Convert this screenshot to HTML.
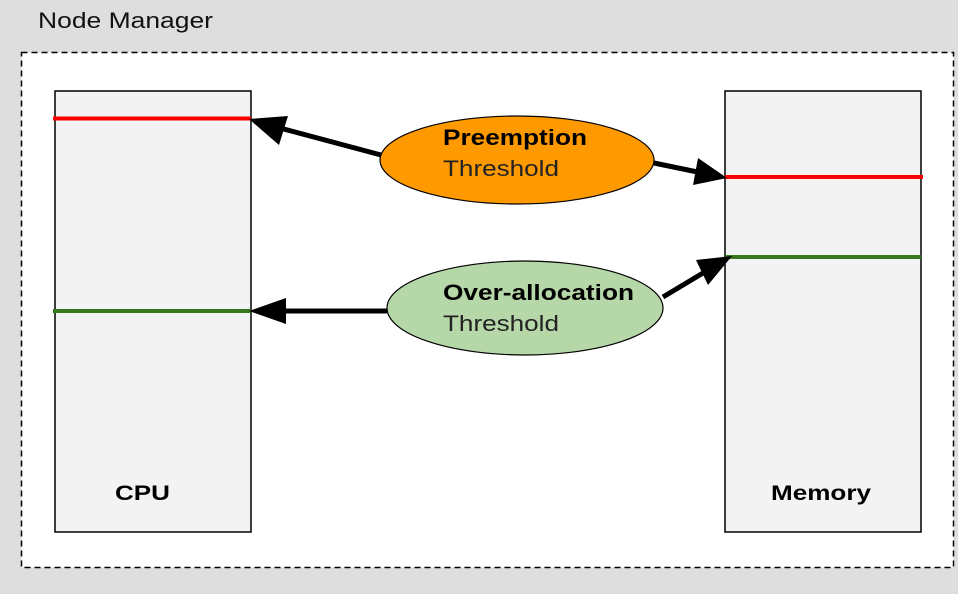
<!DOCTYPE html>
<html><head><style>body{margin:0;background:#dedede;}svg{display:block}</style></head><body>
<svg width="958" height="594" xmlns="http://www.w3.org/2000/svg" font-family="Liberation Sans, sans-serif">
<rect width="958" height="594" fill="#dedede"/>
<text x="38" y="28" font-size="22" fill="#111" textLength="175" lengthAdjust="spacingAndGlyphs">Node Manager</text>
<rect x="21.5" y="52.5" width="932" height="515" fill="#fff" stroke="#000" stroke-width="1.5" stroke-dasharray="6,4"/>
<rect x="55" y="91" width="196" height="441" fill="#f3f3f3" stroke="#000" stroke-width="1.5"/>
<rect x="725" y="91" width="196" height="441" fill="#f3f3f3" stroke="#000" stroke-width="1.5"/>
<line x1="53" y1="118.5" x2="251" y2="118.5" stroke="#f00" stroke-width="4"/>
<line x1="53" y1="311" x2="251" y2="311" stroke="#38761d" stroke-width="4"/>
<line x1="725" y1="177" x2="923" y2="177" stroke="#f00" stroke-width="4"/>
<line x1="725" y1="257" x2="921" y2="257" stroke="#38761d" stroke-width="4"/>
<g stroke="#000" stroke-width="5">
<line x1="381" y1="155" x2="265" y2="124"/>
<line x1="654" y1="163" x2="712" y2="175"/>
<line x1="387" y1="311" x2="265" y2="311"/>
<line x1="663" y1="297" x2="718" y2="264"/>
</g>
<g fill="#000">
<path d="M249,119 L288,116 L279,145 Z"/>
<path d="M727,178 L698,158 L693,185 Z"/>
<path d="M249,311 L286,298 L286,324 Z"/>
<path d="M732,256 L696,260 L708,285 Z"/>
</g>
<ellipse cx="517" cy="160" rx="137" ry="44" fill="#ff9900" stroke="#000" stroke-width="1.2"/>
<ellipse cx="525" cy="308" rx="138" ry="47" fill="#b6d7a8" stroke="#000" stroke-width="1.2"/>
<text x="443" y="145" font-size="22" font-weight="bold" fill="#000" textLength="144" lengthAdjust="spacingAndGlyphs">Preemption</text>
<text x="443" y="176" font-size="22" fill="#222" textLength="116" lengthAdjust="spacingAndGlyphs">Threshold</text>
<text x="443" y="300" font-size="22" font-weight="bold" fill="#000" textLength="191" lengthAdjust="spacingAndGlyphs">Over-allocation</text>
<text x="443" y="331" font-size="22" fill="#222" textLength="116" lengthAdjust="spacingAndGlyphs">Threshold</text>
<text x="115" y="500" font-size="21" font-weight="bold" textLength="55" lengthAdjust="spacingAndGlyphs">CPU</text>
<text x="771" y="500" font-size="21" font-weight="bold" textLength="100" lengthAdjust="spacingAndGlyphs">Memory</text>
</svg>
</body></html>
